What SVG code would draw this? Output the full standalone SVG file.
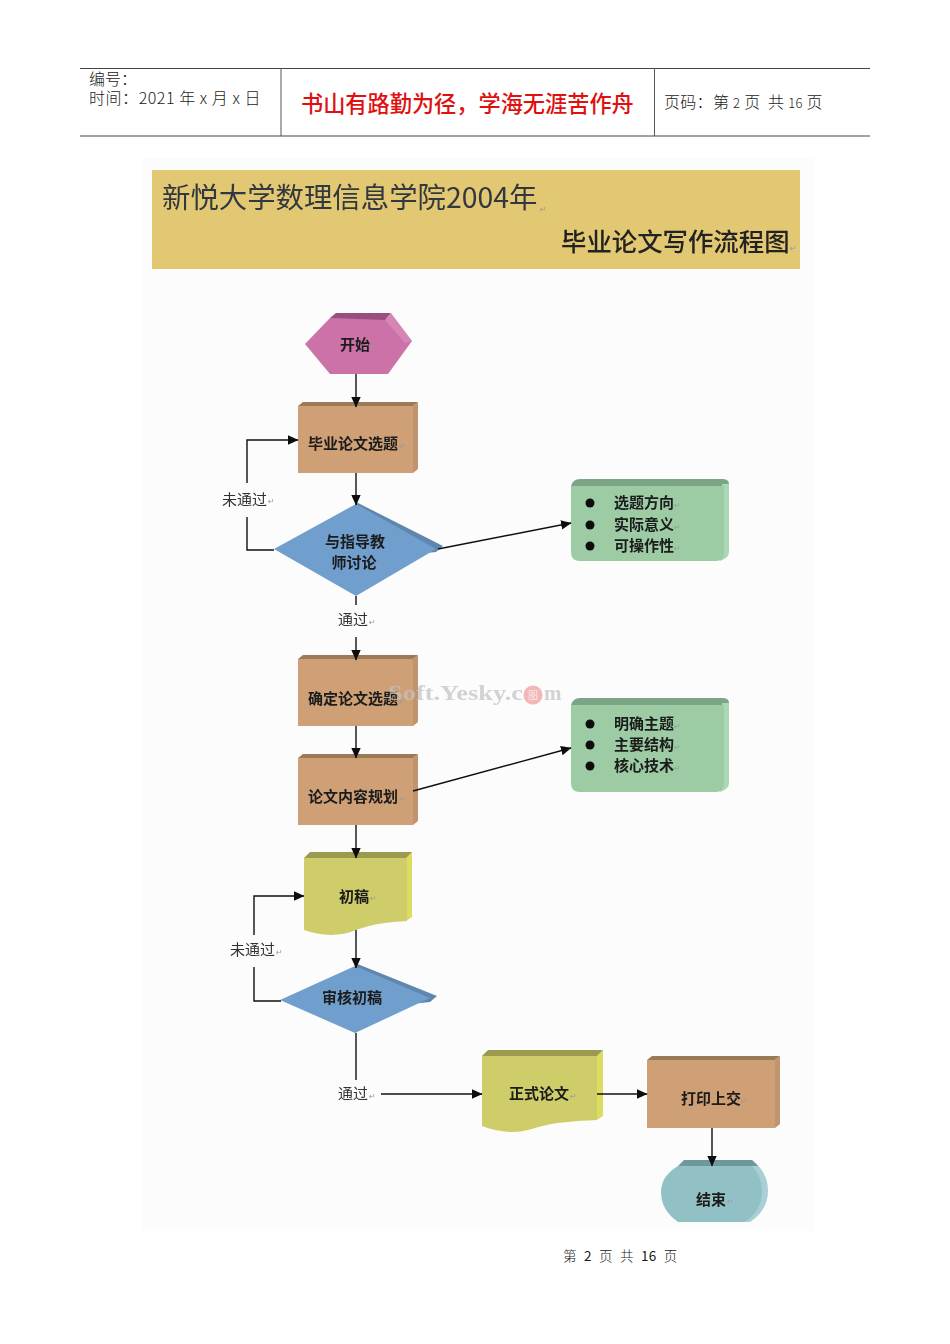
<svg xmlns="http://www.w3.org/2000/svg" width="950" height="1344" viewBox="0 0 950 1344">
<defs>
<marker id="arr" markerUnits="userSpaceOnUse" markerWidth="11" markerHeight="11" refX="10" refY="5.5" orient="auto"><path d="M0,0.8 L10.5,5.5 L0,10.2 Z" fill="#111"/></marker>
<filter id="soft" x="-5%" y="-5%" width="110%" height="110%"><feGaussianBlur stdDeviation="0.5"/></filter>
</defs>
<style>
text{font-family:"Noto Sans CJK SC","Liberation Sans",sans-serif;fill:#1a1a1a}
.hd{font-size:16px;font-weight:300}
.lb{font-size:15px;font-weight:700;text-anchor:middle}
.li{font-size:15px;font-weight:700}
.pl{font-size:15px;font-weight:400;fill:#333}
.rm{font-family:"DejaVu Sans",sans-serif;font-size:8px;fill:#999}
.ln{fill:none;stroke:#111;stroke-width:1.4}
.ar{marker-end:url(#arr)}
.rf{fill:#cf9f75}.rt{fill:#9b7a58}.rr{fill:#c0946c}
.gf{fill:#9ccba4}.gt{fill:#7ba585}.gr{fill:#aad8b2}
.yf{fill:#cfcd6a}.yt{fill:#9b9a50}.yr{fill:#dcdc60}
.df{fill:#6f9fce}.dt{fill:#5f86ad}
.bu{fill:#111}
.wm{font-family:"Liberation Serif",serif;font-size:21px;font-weight:700;fill:#c4c4c4;opacity:.75}
</style>
<rect width="950" height="1344" fill="#fff"/>
<g id="header">
<path d="M80,68.5H870M80,136H870" stroke="#444" stroke-width="1" fill="none"/>
<path d="M281,68V136M654.5,68V136" stroke="#555" stroke-width="1" fill="none"/>
<text class="hd" x="89" y="85">编号：</text>
<text class="hd" x="89" y="104" letter-spacing=".55">时间：2021 年 x 月 x 日</text>
<text x="301" y="112" font-size="22.2" font-weight="500" style="fill:#e01010">书山有路勤为径，学海无涯苦作舟</text>
<text class="hd" x="664" y="108" letter-spacing=".3" xml:space="preserve">页码：第 <tspan font-size="13">2</tspan> 页  共 <tspan font-size="13">16</tspan> 页</text>
</g>
<g filter="url(#soft)">
<rect x="142" y="158" width="672" height="1073" fill="#fbfcfb"/>
<g id="title">
<rect x="152" y="170" width="648" height="99" fill="#e2c873"/>
<text x="162" y="208" font-size="28.4" font-weight="400" style="fill:#33373f">新悦大学数理信息学院2004年</text>
<text class="rm" x="540" y="212">↵</text>
<text x="561" y="251" font-size="25.4" font-weight="500" style="fill:#222">毕业论文写作流程图</text>
<text class="rm" x="790" y="251">↵</text>
</g>
<g id="n-start">
<path d="M305,344L330,318L391,318L412,341L388,374H330Z" fill="#cc72a8"/>
<path d="M330,318L336,313H391L385,320Z" fill="#98507e"/>
<path d="M385,320L391,313L412,341L405,343Z" fill="#d585b6"/>
<text class="lb" x="355" y="350">开始</text><text class="rm" x="370" y="349">↵</text>
</g>
<g id="n-topic">
<rect class="rf" x="298" y="406" width="115" height="67"/>
<path class="rt" d="M298,406L303,402H418L413,406Z"/><path class="rr" d="M413,406L418,402V469L413,473Z"/>
<text class="lb" x="353" y="449">毕业论文选题</text><text class="rm" x="399" y="449">↵</text>
</g>
<g id="n-discuss">
<path class="dt" d="M356,502L443,546L436,552L356,560Z"/>
<path class="df" d="M274,549L356,504L436,549L356,596Z"/>
<text class="lb" x="355" y="547">与指导教</text>
<text class="lb" x="354" y="568">师讨论</text><text class="rm" x="377" y="568">↵</text>
</g>
<g id="n-note1">
<path class="gt" d="M571,486Q573,479 580,479H722Q729,479 729,484L724,486Z"/>
<path class="gr" d="M722,484H729V552Q729,558 720,561Z"/>
<path class="gf" d="M571,486H724V552Q724,561 716,561H580Q571,561 571,552Z"/>
<circle class="bu" cx="590" cy="503" r="4.5"/><circle class="bu" cx="590" cy="525" r="4.5"/><circle class="bu" cx="590" cy="546" r="4.5"/>
<text class="li" x="614" y="508">选题方向</text><text class="rm" x="674" y="508">↵</text>
<text class="li" x="614" y="530">实际意义</text><text class="rm" x="674" y="530">↵</text>
<text class="li" x="614" y="551">可操作性</text><text class="rm" x="674" y="551">↵</text>
</g>
<g id="n-confirm">
<rect class="rf" x="298" y="659" width="115" height="67"/>
<path class="rt" d="M298,659L303,655H418L413,659Z"/><path class="rr" d="M413,659L418,655V722L413,726Z"/>
<text class="lb" x="353" y="704">确定论文选题</text><text class="rm" x="399" y="704">↵</text>
</g>
<g id="n-plan">
<rect class="rf" x="298" y="758" width="115" height="67"/>
<path class="rt" d="M298,758L303,754H418L413,758Z"/><path class="rr" d="M413,758L418,754V821L413,825Z"/>
<text class="lb" x="353" y="802">论文内容规划</text><text class="rm" x="399" y="802">↵</text>
</g>
<g id="n-note2">
<path class="gt" d="M571,705Q573,698 580,698H722Q729,698 729,703L724,705Z"/>
<path class="gr" d="M722,703H729V783Q729,789 720,792Z"/>
<path class="gf" d="M571,705H724V783Q724,792 716,792H580Q571,792 571,783Z"/>
<circle class="bu" cx="590" cy="724" r="4.5"/><circle class="bu" cx="590" cy="745" r="4.5"/><circle class="bu" cx="590" cy="766" r="4.5"/>
<text class="li" x="614" y="729">明确主题</text><text class="rm" x="674" y="729">↵</text>
<text class="li" x="614" y="750">主要结构</text><text class="rm" x="674" y="750">↵</text>
<text class="li" x="614" y="771">核心技术</text><text class="rm" x="674" y="771">↵</text>
</g>
<g id="n-draft">
<path class="yr" d="M406,857L412,852V917L406,921Z"/>
<path class="yt" d="M304,858L310,852H412L406,858Z"/>
<path class="yf" d="M304,858H407V921C392,922 375,923 356,930C340,937 320,936 304,930Z"/>
<text class="lb" x="354" y="902">初稿</text><text class="rm" x="370" y="901">↵</text>
</g>
<g id="n-review">
<path class="dt" d="M355,963L437,996L430,1002L355,1010Z"/>
<path class="df" d="M280,1000L355,966L430,998L355,1033Z"/>
<text class="lb" x="352" y="1003">审核初稿</text>
</g>
<g id="n-final">
<path class="yr" d="M597,1056L603,1050V1116L597,1120Z"/>
<path class="yt" d="M482,1056L488,1050H603L597,1056Z"/>
<path class="yf" d="M482,1056H597V1120C575,1121 555,1122 535,1128C515,1135 498,1132 482,1126Z"/>
<text class="lb" x="539" y="1099">正式论文</text><text class="rm" x="570" y="1099">↵</text>
</g>
<g id="n-submit">
<rect class="rf" x="647" y="1060" width="128" height="68"/>
<path class="rt" d="M647,1060L652,1056H780L775,1060Z"/><path class="rr" d="M775,1060L780,1056V1124L775,1128Z"/>
<text class="lb" x="711" y="1104">打印上交</text><text class="rm" x="741" y="1104">↵</text>
</g>
<g id="n-end">
<path d="M752,1160Q768,1172 768,1191Q768,1210 750,1222L740,1222L752,1166Z" fill="#a8d0d4"/>
<path d="M678,1166L684,1160H752L758,1166Z" fill="#6f989c"/>
<path d="M678,1166Q661,1176 661,1192Q661,1210 678,1222H745Q762,1210 762,1192Q762,1176 752,1166Z" fill="#92c1c5"/>
<text class="lb" x="711" y="1205">结束</text><text class="rm" x="727" y="1204">↵</text>
</g>
<g id="connectors">
<path class="ln ar" d="M356,374V407"/>
<path class="ln ar" d="M356,473V505"/>
<path class="ln ar" d="M274,550H247V517M247,483V440H298"/>
<path class="ln ar" d="M438,549L571,523"/>
<path class="ln" d="M356,596V605"/>
<path class="ln ar" d="M356,637V660"/>
<path class="ln ar" d="M356,726V758"/>
<path class="ln ar" d="M413,791L571,748"/>
<path class="ln ar" d="M356,825V858"/>
<path class="ln ar" d="M356,930V968"/>
<path class="ln" d="M281,1001H254V967"/>
<path class="ln ar" d="M254,935V896H304"/>
<path class="ln" d="M356,1033V1080"/>
<path class="ln ar" d="M381,1094H482"/>
<path class="ln ar" d="M597,1094H647"/>
<path class="ln ar" d="M712,1128V1166"/>
</g>
<g id="edge-labels">
<text class="pl" x="222" y="505">未通过</text><text class="rm" x="268" y="504">↵</text>
<text class="pl" x="338" y="625">通过</text><text class="rm" x="369" y="625">↵</text>
<text class="pl" x="230" y="955">未通过</text><text class="rm" x="276" y="955">↵</text>
<text class="pl" x="338" y="1099">通过</text><text class="rm" x="369" y="1099">↵</text>
</g>
<g id="watermark">
<circle cx="533" cy="695" r="9.5" fill="#f2a9ad" opacity=".85"/>
<text class="wm" x="388" y="700" textLength="135" lengthAdjust="spacingAndGlyphs">Soft.Yesky.c</text>
<text class="wm" x="544" y="700">m</text>
<text x="528" y="699" font-size="10" style="fill:#fbe6e6">图</text>
</g>
</g>
<g id="footer">
<text x="563" y="1261" font-size="13.5" font-weight="300" letter-spacing=".5" xml:space="preserve">第  <tspan font-weight="400">2</tspan>  页  共  <tspan font-weight="400">16</tspan>  页</text>
</g>
</svg>
